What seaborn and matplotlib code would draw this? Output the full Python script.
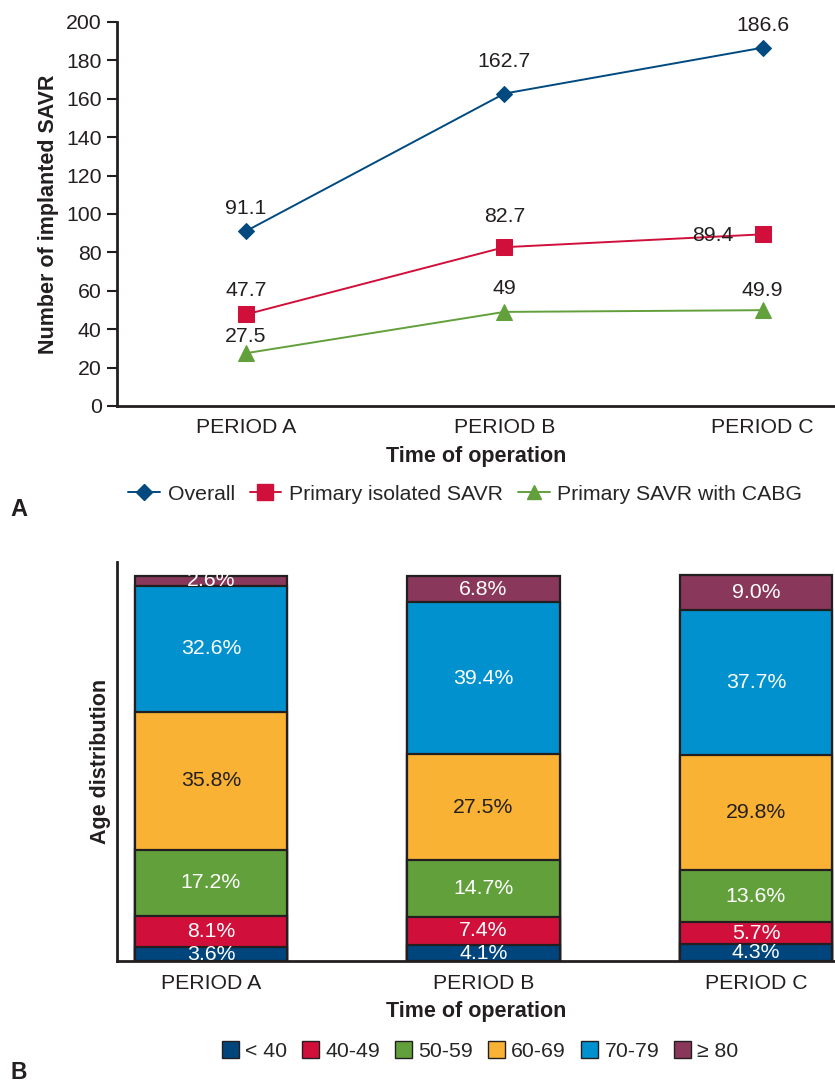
import numpy as np
import pandas as pd
import seaborn as sns
import matplotlib.pyplot as plt
from matplotlib.patches import Patch
from matplotlib.lines import Line2D

# DATA ----------------------------------------------------------------------------------------------
periods = ['PERIOD A', 'PERIOD B', 'PERIOD C']

overall = [91.1, 162.7, 186.6]
isolated = [47.7, 82.7, 89.4]
with_cabg = [27.5, 49.0, 49.9]
series_names = ['Overall', 'Primary isolated SAVR', 'Primary SAVR with CABG']
series_labels = [['91.1', '162.7', '186.6'], ['47.7', '82.7', '89.4'], ['27.5', '49', '49.9']]

age_groups = ['< 40', '40-49', '50-59', '60-69', '70-79', '\u2265 80']
age_a = [3.6, 8.1, 17.2, 35.8, 32.6, 2.6]
age_b = [4.1, 7.4, 14.7, 27.5, 39.4, 6.8]
age_c = [4.3, 5.7, 13.6, 29.8, 37.7, 9.0]

# STYLE ---------------------------------------------------------------------------------------------
sns.set_theme(style='white')
plt.rcParams['font.family'] = ['Liberation Sans', 'DejaVu Sans']
dark = '#231F20'
fs = 15.3
line_colors = ['#004A80', '#D0103A', '#62A03C']
line_markers = ['D', 's', '^']
marker_sizes = [8.5, 11.5, 11]
age_colors = ['#00457C', '#D0103A', '#62A03C', '#F9B233', '#0091CE', '#89375A']

fig = plt.figure(figsize=(8.35, 10.87), dpi=100)

# PANEL A: LINE CHART -------------------------------------------------------------------------------
ax1 = fig.add_axes([0.140, 0.6265, 0.860, 0.3533])
all_series = [overall, isolated, with_cabg]
# label offsets in points (dx, dy) relative to each point
label_offsets = [[(0, 16), (0, 23), (0, 16)],
                 [(0, 17), (0, 22), (-36, -1)],
                 [(0, 12), (0, 17), (0, 14)]]
for k, vals in enumerate(all_series):
    df = pd.DataFrame({'period': periods, 'value': vals})
    sns.lineplot(data=df, x='period', y='value', ax=ax1, color=line_colors[k],
                 marker=line_markers[k], markersize=marker_sizes[k],
                 markeredgecolor=line_colors[k], linewidth=1.4, sort=False)
    for i, v in enumerate(vals):
        ax1.annotate(series_labels[k][i], (i, v), xytext=label_offsets[k][i],
                     textcoords='offset points', ha='center', va='center',
                     fontsize=fs, color=dark)

ax1.set_xlim(-0.5, 2.28)
ax1.set_ylim(0, 200)
ax1.set_yticks(np.arange(0, 201, 20))
ax1.set_ylabel('Number of implanted SAVR', fontsize=15.5, fontweight='bold', color=dark, labelpad=5)
ax1.set_xlabel('Time of operation', fontsize=15.5, fontweight='bold', color=dark, labelpad=6)
ax1.tick_params(axis='y', which='both', left=True, length=7, width=1.5, color=dark,
                labelsize=fs, labelcolor=dark, pad=4)
ax1.tick_params(axis='x', bottom=False, labelsize=fs, labelcolor=dark, pad=3)
for s in ['top', 'right']:
    ax1.spines[s].set_visible(False)
for s in ['left', 'bottom']:
    ax1.spines[s].set_linewidth(2)
    ax1.spines[s].set_color(dark)

handles = [Line2D([0], [0], color=line_colors[k], marker=line_markers[k],
                  markersize=marker_sizes[k] * 0.95, linewidth=1.4) for k in range(3)]
fig.legend(handles, series_names, loc='center', bbox_to_anchor=(0.557, 0.5455), ncol=3,
           frameon=False, fontsize=fs, handlelength=1.5, handletextpad=0.35, columnspacing=0.7)

fig.text(0.012, 0.531, 'A', fontsize=17, fontweight='bold', color=dark, va='center')

# PANEL B: STACKED BARS -----------------------------------------------------------------------------
ax2 = fig.add_axes([0.140, 0.1159, 0.860, 0.3670])
age_df = pd.DataFrame([age_a, age_b, age_c], index=periods, columns=age_groups)
cum = age_df.cumsum(axis=1)
# draw from the top segment down so each shorter bar covers the one before
for j in range(len(age_groups) - 1, -1, -1):
    sns.barplot(x=periods, y=cum.iloc[:, j].values, ax=ax2, color=age_colors[j],
                width=0.56, edgecolor=dark, linewidth=1.6, saturation=1)
for i, p in enumerate(periods):
    for j, g in enumerate(age_groups):
        mid = cum.iloc[i, j] - age_df.iloc[i, j] / 2
        ax2.text(i, mid, f'{age_df.iloc[i, j]:.1f}%', ha='center', va='center',
                 color='white' if j != 3 else dark, fontsize=fs)

ax2.set_xlim(-0.345, 2.29)
ax2.set_ylim(0, 103.5)
ax2.set_yticks([])
ax2.set_ylabel('Age distribution', fontsize=15.5, fontweight='bold', color=dark, labelpad=4)
ax2.set_xlabel('Time of operation', fontsize=15.5, fontweight='bold', color=dark, labelpad=6)
ax2.tick_params(axis='x', bottom=False, labelsize=fs, labelcolor=dark, pad=3)
for s in ['top', 'right']:
    ax2.spines[s].set_visible(False)
for s in ['left', 'bottom']:
    ax2.spines[s].set_linewidth(2)
    ax2.spines[s].set_color(dark)

patches = [Patch(facecolor=age_colors[j], edgecolor=dark, linewidth=1) for j in range(6)]
fig.legend(patches, age_groups, loc='center', bbox_to_anchor=(0.575, 0.033), ncol=6,
           frameon=False, fontsize=fs, handlelength=0.8, handleheight=0.8,
           handletextpad=0.3, columnspacing=0.7)

fig.text(0.012, 0.0025, 'B', fontsize=16.5, fontweight='bold', color=dark, va='bottom')

fig.savefig('out.png', dpi=100)
